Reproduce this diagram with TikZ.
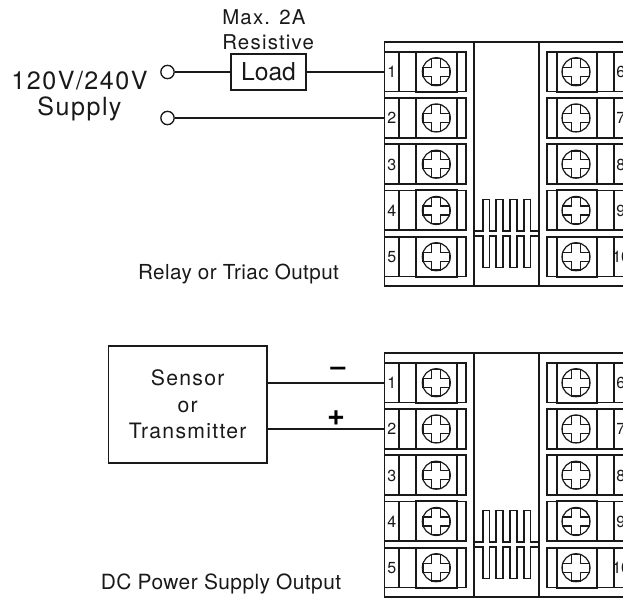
\documentclass[tikz,border=0pt]{standalone}
\usepackage{fontspec}
\setmainfont{TeX Gyre Heros}
\newfontfamily\spacedfont[LetterSpace=6]{TeX Gyre Heros}
\newfontfamily\tightfont[LetterSpace=2]{TeX Gyre Heros}
\tikzset{
  wire/.style={line width=1.3pt,black!90!white},
  lamp/.style={circle,draw,line width=1pt,black!90!white,fill=white,minimum size=10pt,inner sep=0pt},
  boxnode/.style={draw,line width=1.3pt,black!90!white,inner sep=0pt,text=black!90!white,align=center},
  label/.style={inner sep=0pt,text=black!90!white,align=center,font=\spacedfont\fontsize{15.3}{19.5}\selectfont},
  pin/.style={inner sep=0pt,text=black!90!white,font=\fontsize{12}{12}\selectfont},
  screwhead/.pic={
    \draw[line width=.9pt] (0,0) circle (14);
    \draw[line width=.9pt] (-4.5,-13.3) -- (4.5,-13.3) -- (4.5,-4.5) -- (13.3,-4.5) -- (13.3,4.5) -- (4.5,4.5) -- (4.5,13.3)
      -- (-4.5,13.3) -- (-4.5,4.5) -- (-13.3,4.5) -- (-13.3,-4.5) -- (-4.5,-4.5) -- cycle;
  },
}
% one terminal block, #1 is its vertical offset, #2 its name
\newcommand{\terminalblock}[2]{
  \begin{scope}[yshift=-#1*0.75pt,line width=1.2pt,black!90!white]
    \draw[line width=1.4pt] (623,42) -- (384.5,42) -- (384.5,286) -- (623,286);
    \draw (473.7,42) -- (473.7,286);
    \draw (539,42) -- (539,286);
    \foreach \row/\lnum/\rnum/\rpos in {0/1/6/615.5,1/2/7/615.5,2/3/8/615.5,3/4/9/615.5,4/5/10/611.5}{
      \begin{scope}[yshift=-\row*46.25*0.75pt]
        \draw (384.5,51.7) -- (465.7,51.7) -- (465.7,91.5) -- (384.5,91.5);
        \draw (399,51.7) -- (399,91.5);
        \draw[line width=1.5pt] (416,51.7) rectangle (456.7,91.5);
        \pic at (436.3,71.7) {screwhead};
        \draw (623,51.7) -- (546.7,51.7) -- (546.7,91.5) -- (623,91.5);
        \draw[line width=1.5pt] (556.7,51.7) rectangle (596.7,91.5);
        \draw (613.7,51.7) -- (613.7,91.5);
        \pic at (576,71.7) {screwhead};
        \node[pin] (#2l\lnum) at (391.8,72) {\lnum};
        \node[pin,anchor=west] (#2r\rnum) at (\rpos,72) {\rnum};
      \end{scope}
    }
    \draw (473.7,230.7) -- (482.7,230.7)
      \foreach \xa/\xb in {482.7/489.3,496/503,510/516.7,524/530.5}{
        -- (\xa,230.7) -- (\xa,199.3) -- (\xb,199.3) -- (\xb,230.7)
      } -- (539,230.7);
    \draw (473.7,235.7) -- (482.7,235.7)
      \foreach \xa/\xb in {482.7/489.3,496/503,510/516.7,524/530.5}{
        -- (\xa,235.7) -- (\xa,267.3) -- (\xb,267.3) -- (\xb,235.7)
      } -- (539,235.7);
    \coordinate (#2a) at (384.5,72);
    \coordinate (#2b) at (384.5,118);
  \end{scope}
}
\begin{document}
\begin{tikzpicture}[x=.75pt,y=-.75pt]
  \useasboundingbox (0,0) rectangle (623,603);

  \terminalblock{0}{top}
  \terminalblock{311}{bot}

  % relay wiring
  \node[lamp] (supplya) at (167.5,72) {};
  \node[lamp] (supplyb) at (167.5,118) {};
  \node[boxnode,minimum width=56.5pt,minimum height=27pt,font=\fontsize{18.5}{18}\selectfont] (load) at (268.5,72) {Load};
  \draw[wire] (supplya) -- (load);
  \draw[wire] (load) -- (topa);
  \draw[wire] (supplyb) -- (topb);

  \node[label,anchor=west] (maxamps) at (222,17) {Max. 2A};
  \node[label,anchor=west] (resistive) at (222,42) {Resistive};
  \node[label,font=\spacedfont\fontsize{18.8}{19.5}\selectfont] (supply) at (79.5,96) {120V/240V\\Supply};
  \node[label,font=\tightfont\fontsize{15.5}{19.5}\selectfont] (relayout) at (238.5,274) {Relay or Triac Output};

  % sensor wiring
  \node[boxnode,minimum width=119pt,minimum height=88pt,font=\spacedfont\fontsize{15.9}{20}\selectfont] (sensor) at (187.7,404.3) {Sensor\\or\\Transmitter};
  \coordinate (sensora) at (sensor.east |- bota);
  \coordinate (sensorb) at (sensor.east |- botb);
  \draw[wire] (sensora) -- (bota);
  \draw[wire] (sensorb) -- (botb);
  \node[inner sep=0pt,font=\bfseries\fontsize{20}{20}\selectfont] (minus) at (338,371) {--};
  \node[inner sep=0pt,font=\bfseries\fontsize{23}{23}\selectfont] (plus) at (336,418) {+};

  \node[label,font=\tightfont\fontsize{15.7}{19.5}\selectfont] (dcout) at (221,583.5) {DC Power Supply Output};
\end{tikzpicture}
\end{document}
